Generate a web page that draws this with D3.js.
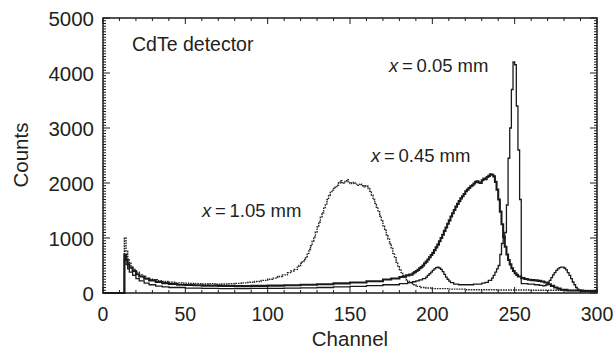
<!DOCTYPE html>
<html>
<head>
<meta charset="utf-8">
<script src="https://cdn.jsdelivr.net/npm/d3@7"></script>
<style>
  body { margin: 0; background: #fff; }
  svg text { font-family: "Liberation Sans", Arial, Helvetica, sans-serif; fill: #231f20; }
</style>
</head>
<body>
<svg id="chart" width="613" height="349"></svg>
<script>
// spectra: [channel, counts]
const spec105 = [[0,0],[12,0],[13,1000],[14,760],[15,620],[16,540],[17,470],[18,430],[20,380],[22,330],[24,300],[26,270],[28,250],[30,240],[33,225],[36,210],[40,195],[44,185],[48,180],[52,175],[56,170],[60,165],[64,170],[68,160],[72,165],[76,170],[80,175],[84,185],[88,195],[92,210],[96,230],[100,250],[103,270],[106,300],[109,330],[112,370],[114,400],[116,430],[118,470],[119,500],[120,540],[121,570],[122,610],[123,660],[124,720],[125,790],[126,860],[127,940],[128,1020],[129,1110],[130,1200],[131,1290],[132,1380],[133,1460],[134,1540],[135,1620],[136,1700],[137,1770],[138,1830],[139,1870],[140,1900],[141,1930],[142,1960],[143,2000],[144,2040],[145,2010],[146,2000],[147,2030],[148,2060],[149,2020],[150,1990],[151,2000],[152,2010],[153,1980],[154,1960],[155,1970],[156,1980],[157,1950],[158,1930],[159,1950],[160,1940],[161,1900],[162,1850],[163,1780],[164,1700],[165,1630],[166,1560],[167,1480],[168,1400],[169,1310],[170,1220],[171,1140],[172,1060],[173,980],[174,900],[175,810],[176,720],[177,640],[178,560],[179,490],[180,420],[181,370],[182,320],[183,280],[184,240],[185,210],[186,190],[188,150],[190,120],[193,100],[196,90],[200,80],[210,70],[220,60],[240,55],[260,50],[280,45],[300,45]];

const spec045 = [[0,0],[12,0],[13,700],[14,600],[15,520],[16,460],[18,400],[20,340],[22,300],[25,260],[28,230],[32,200],[36,180],[40,165],[45,150],[50,145],[55,140],[60,135],[70,130],[80,125],[90,130],[100,135],[110,140],[120,150],[130,160],[140,175],[150,190],[160,215],[170,245],[175,265],[180,290],[182,300],[184,320],[186,335],[188,360],[189,380],[190,400],[191,420],[192,450],[193,470],[194,500],[195,540],[196,570],[197,610],[198,650],[199,690],[200,730],[201,780],[202,830],[203,880],[204,940],[205,1000],[206,1060],[207,1130],[208,1190],[209,1260],[210,1320],[211,1390],[212,1450],[213,1510],[214,1570],[215,1620],[216,1670],[217,1720],[218,1760],[219,1800],[220,1850],[221,1880],[222,1910],[223,1940],[224,1960],[225,1990],[226,2020],[227,2030],[228,2010],[229,2000],[230,2050],[231,2080],[232,2070],[233,2110],[234,2130],[235,2160],[236,2150],[237,2120],[238,2020],[239,1880],[240,1700],[241,1480],[242,1250],[243,1020],[244,840],[245,700],[246,600],[247,520],[248,450],[249,400],[250,360],[251,330],[252,300],[254,270],[256,255],[258,240],[260,235],[262,230],[264,220],[266,210],[268,190],[270,160],[272,130],[274,100],[276,80],[278,60],[282,45],[290,35],[300,30]];

const spec005 = [[0,0],[12,0],[13,620],[14,520],[15,440],[16,380],[18,320],[20,260],[22,220],[25,180],[28,150],[32,125],[36,110],[40,100],[50,90],[60,85],[70,80],[80,80],[90,85],[100,85],[110,90],[120,95],[130,100],[140,110],[150,120],[160,135],[170,150],[180,170],[185,190],[188,205],[190,220],[192,240],[194,260],[196,290],[197,320],[198,350],[199,380],[200,410],[201,440],[202,460],[203,470],[204,455],[205,430],[206,390],[207,340],[208,290],[209,250],[210,215],[211,190],[213,160],[216,150],[220,150],[225,160],[230,180],[232,195],[234,230],[236,270],[237,320],[238,380],[239,440],[240,500],[241,700],[242,900],[243,1000],[244,1100],[245,1600],[246,2450],[247,3000],[248,3700],[249,4200],[250,4150],[251,3400],[252,2600],[253,1700],[254,170],[258,160],[262,150],[265,140],[267,130],[268,135],[269,150],[270,190],[271,230],[272,280],[273,330],[274,370],[275,410],[276,440],[277,460],[278,470],[279,470],[280,450],[281,420],[282,370],[283,320],[284,260],[285,200],[286,150],[287,100],[288,70],[289,50],[292,40],[300,35]];

const xTicks = [0, 50, 100, 150, 200, 250, 300];
const yTicks = [0, 1000, 2000, 3000, 4000, 5000];

const margin = { top: 18, right: 16, bottom: 56, left: 103 },
  width = 613 - margin.left - margin.right,
  height = 349 - margin.top - margin.bottom;

const svg = d3.select("#chart");
const g = svg.append("g").attr("transform", `translate(${margin.left},${margin.top})`);

const x = d3.scaleLinear().domain([0, 300]).range([0, width]);
const y = d3.scaleLinear().domain([0, 5000]).range([height, 0]);

// minor ticks on all four sides, pointing inward
const xMinor = d3.range(0, 301, 10), yMinor = d3.range(0, 5001, 50);
const tickG = g.append("g").attr("stroke", "#1a1a1a").attr("stroke-width", 1);
xMinor.forEach(v => {
  const len = v % 50 === 0 ? 6 : 3;
  tickG.append("line").attr("x1", x(v)).attr("x2", x(v)).attr("y1", 0).attr("y2", len);
  tickG.append("line").attr("x1", x(v)).attr("x2", x(v)).attr("y1", height).attr("y2", height - len);
});
yMinor.forEach(v => {
  const len = v % 1000 === 0 ? 7 : 3;
  tickG.append("line").attr("x1", 0).attr("x2", len).attr("y1", y(v)).attr("y2", y(v));
  tickG.append("line").attr("x1", width).attr("x2", width - len).attr("y1", y(v)).attr("y2", y(v));
});

// tick labels
g.selectAll(".xl").data(xTicks).enter().append("text")
  .attr("x", d => x(d)).attr("y", height + 28)
  .attr("text-anchor", "middle").style("font-size", "19.5px")
  .text(d => d);
g.selectAll(".yl").data(yTicks).enter().append("text")
  .attr("x", -9).attr("y", d => y(d) + 7.5)
  .attr("text-anchor", "end").style("font-size", "20.5px")
  .text(d => d);

// spectra
const line = d3.line().x(d => x(d[0])).y(d => y(d[1])).curve(d3.curveStepAfter);
g.append("path").datum(spec105).attr("d", line)
  .attr("fill", "none").attr("stroke", "#222").attr("stroke-width", 1.4).attr("stroke-dasharray", "1.6,0.9");
g.append("path").datum(spec005).attr("d", line)
  .attr("fill", "none").attr("stroke", "#1a1a1a").attr("stroke-width", 1.3);
g.append("path").datum(spec045).attr("d", line)
  .attr("fill", "none").attr("stroke", "#1a1a1a").attr("stroke-width", 2.1);

// frame
g.append("rect").attr("width", width).attr("height", height)
  .attr("fill", "none").attr("stroke", "#1a1a1a").attr("stroke-width", 1.5);

// axis titles
svg.append("text").attr("x", margin.left + width / 2).attr("y", 346)
  .attr("text-anchor", "middle").style("font-size", "20.5px").text("Channel");
svg.append("text").attr("transform", "translate(28,155) rotate(-90)")
  .attr("text-anchor", "middle").style("font-size", "20.5px").text("Counts");

// annotations
svg.append("text").attr("x", 132).attr("y", 51).style("font-size", "19.5px").text("CdTe detector");
const labels = [
  { x: 389, y: 72, t: "0.05 mm" },
  { x: 371, y: 162, t: "0.45 mm" },
  { x: 202, y: 217, t: "1.05 mm" }
];
labels.forEach(l => {
  const t = svg.append("text").attr("x", l.x).attr("y", l.y).style("font-size", "18.5px");
  t.append("tspan").style("font-style", "italic").text("x");
  t.append("tspan").text("\u2009=\u2009" + l.t);
});
</script>
</body>
</html>
